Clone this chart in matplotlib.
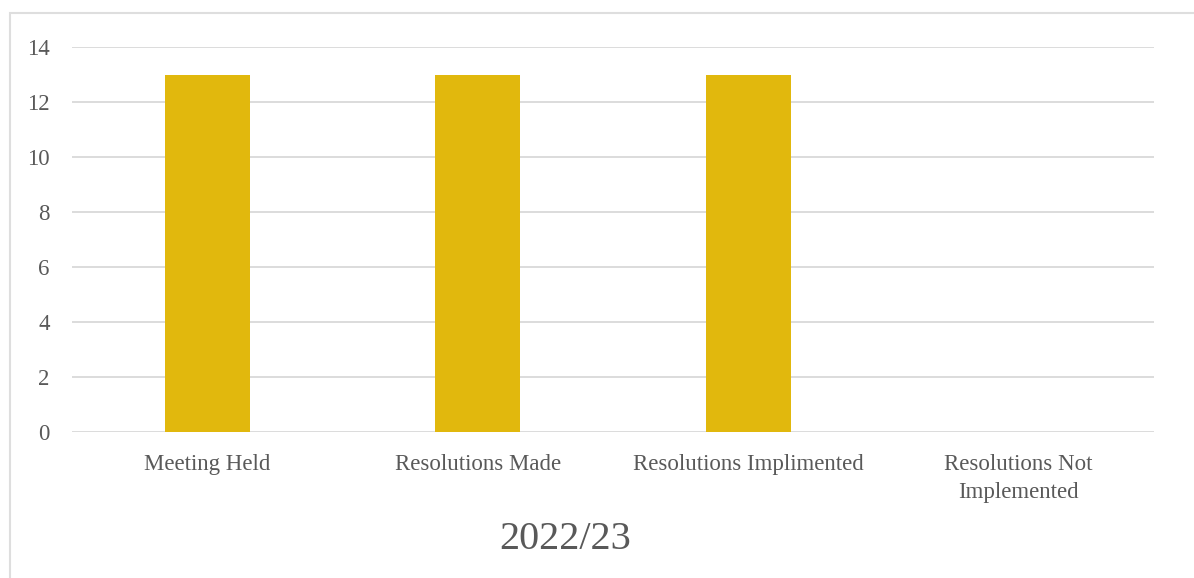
import matplotlib
matplotlib.use("Agg")
import matplotlib.pyplot as plt
from matplotlib.patches import Rectangle

categories = ["Meeting Held", "Resolutions Made", "Resolutions Implimented",
              "Resolutions Not\nImplemented"]
values = [13, 13, 13, 0]
yticks = [0, 2, 4, 6, 8, 10, 12, 14]
title = "2022/23"

plt.rcParams['font.family'] = ['Liberation Serif', 'DejaVu Serif']
txt = "#595959"
grid = "#D9D9D9"

fig = plt.figure(figsize=(11.94, 5.78), dpi=100)
ax = fig.add_axes([72/1194, 1 - 432/578, (1154-72)/1194, (432-47)/578])

x = range(len(categories))
ax.bar(x, values, width=0.315, color="#E1B80D", zorder=3)
ax.set_xlim(-0.5, 3.5)
ax.set_ylim(0, 14)
ax.set_yticks(yticks)
ax.set_xticks(list(x))
ax.set_xticklabels(categories, fontsize=16.5, color=txt, linespacing=1.4)
ax.tick_params(axis='y', length=0, pad=16, labelsize=16.5, labelcolor=txt)
ax.tick_params(axis='x', length=0, pad=16)
ax.yaxis.grid(True, color=grid, linewidth=1.3, zorder=0)
for s in ax.spines.values():
    s.set_visible(False)

fig.text(565/1194, 1 - 549/578, title, ha='center', va='baseline',
         fontsize=29, color=txt)

# outer chart border (runs off the right and bottom edges)
fig.patches.append(Rectangle((10/1194, -0.1), 1.2, 1 - 13.5/578 + 0.1,
                             transform=fig.transFigure, fill=False,
                             edgecolor="#DEDEDE", linewidth=1.5))

fig.savefig("out.png", dpi=100)
